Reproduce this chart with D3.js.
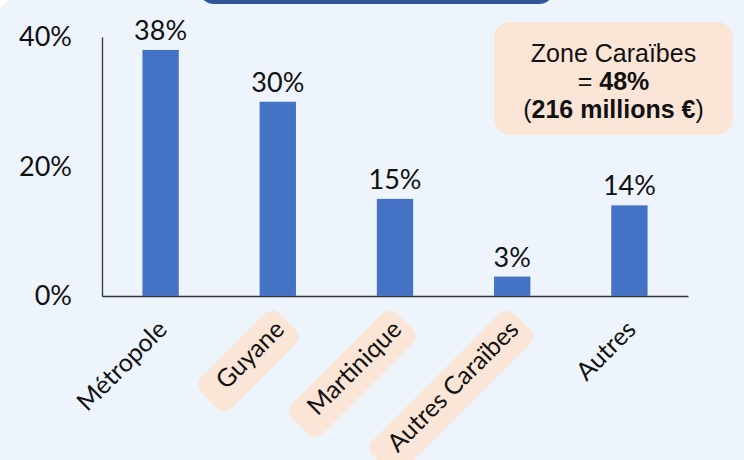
<!DOCTYPE html>
<html>
<head>
<meta charset="utf-8">
<script src="https://cdn.jsdelivr.net/npm/d3@7"></script>
<style>
  html, body { margin: 0; padding: 0; background: #ffffff; }
  svg { display: block; font-family: Lato, "Open Sans", sans-serif; }
</style>
</head>
<body>
<svg id="chart" width="744" height="460"></svg>
<script>
const categories = ["Métropole", "Guyane", "Martinique", "Autres Caraïbes", "Autres"];
const values = [38, 30, 15, 3, 14];
const caribbean = [false, true, true, true, false];
const yTicks = [0, 20, 40];
const annotationTitle = "Zone Caraïbes";
const annotationShare = "48%";
const annotationAmount = "216 millions €";

const svg = d3.select("#chart");
const W = 744, H = 460;

// panel background
svg.append("rect").attr("x", 0).attr("y", 0).attr("width", W + 40).attr("height", H + 40)
  .attr("rx", 14).attr("fill", "#EDF4FB");

// dark header band (cut off at top)
svg.append("rect").attr("x", 199).attr("y", -26).attr("width", 355).attr("height", 30)
  .attr("rx", 15).attr("fill", "#2F5597");

const x = d3.scaleBand().domain(categories).range([102, 688]).paddingInner(0.69).paddingOuter(0.345);
const y = d3.scaleLinear().domain([0, 40]).range([296, 37]);

// y axis
const yAxis = svg.append("g").attr("transform", "translate(102,0)")
  .call(d3.axisLeft(y).tickValues(yTicks).tickFormat(d => d + "%").tickSize(0).tickPadding(30));
yAxis.select(".domain").attr("stroke", "#333").attr("stroke-width", 1.3);
yAxis.selectAll("text").attr("font-size", 27).attr("font-family", "Lato").attr("fill", "#111");

// x axis line
const xAxis = svg.append("g").attr("transform", "translate(0,296)")
  .call(d3.axisBottom(x).tickSize(0).tickFormat(""));
xAxis.select(".domain").attr("stroke", "#333").attr("stroke-width", 1.3);

// bars
svg.append("g").selectAll("rect").data(values).join("rect")
  .attr("x", (d, i) => x(categories[i]))
  .attr("y", d => y(d))
  .attr("width", x.bandwidth())
  .attr("height", d => y(0) - y(d))
  .attr("fill", "#4472C4");

// value labels
svg.append("g").selectAll("text").data(values).join("text")
  .attr("x", (d, i) => x(categories[i]) + x.bandwidth() / 2)
  .attr("y", d => y(d) - 10)
  .attr("text-anchor", "middle")
  .attr("font-size", 27)
  .attr("fill", "#111")
  .text(d => d + "%");

// category labels
const labels = svg.append("g").selectAll("g").data(categories).join("g")
  .attr("transform", d => `translate(${x(d) + x.bandwidth() / 2 + 8},331) rotate(-45)`);
labels.each(function (d, i) {
  const g = d3.select(this);
  const t = g.append("text").attr("text-anchor", "end").attr("font-size", 25).attr("fill", "#111").text(d);
  if (caribbean[i]) {
    const b = t.node().getBBox();
    g.insert("rect", "text")
      .attr("x", b.x - 19).attr("y", b.y - 2)
      .attr("width", b.width + 27).attr("height", b.height + 13)
      .attr("rx", 10).attr("fill", "#FBE5D6");
  }
});

// annotation box
svg.append("rect").attr("x", 494).attr("y", 22).attr("width", 239).attr("height", 113)
  .attr("rx", 16).attr("fill", "#FBE5D6");
const ann = svg.append("g").attr("font-size", 25).attr("fill", "#111")
  .attr("font-family", "'Liberation Sans', Arial, sans-serif")
  .attr("text-anchor", "middle");
ann.append("text").attr("x", 613.5).attr("y", 61.5).text(annotationTitle);
const l2 = ann.append("text").attr("x", 613.5).attr("y", 89.5);
l2.append("tspan").text("= ");
l2.append("tspan").attr("font-weight", "bold").text(annotationShare);
const l3 = ann.append("text").attr("x", 613.5).attr("y", 117.5);
l3.append("tspan").text("(");
l3.append("tspan").attr("font-weight", "bold").text(annotationAmount);
l3.append("tspan").text(")");
</script>
</body>
</html>
